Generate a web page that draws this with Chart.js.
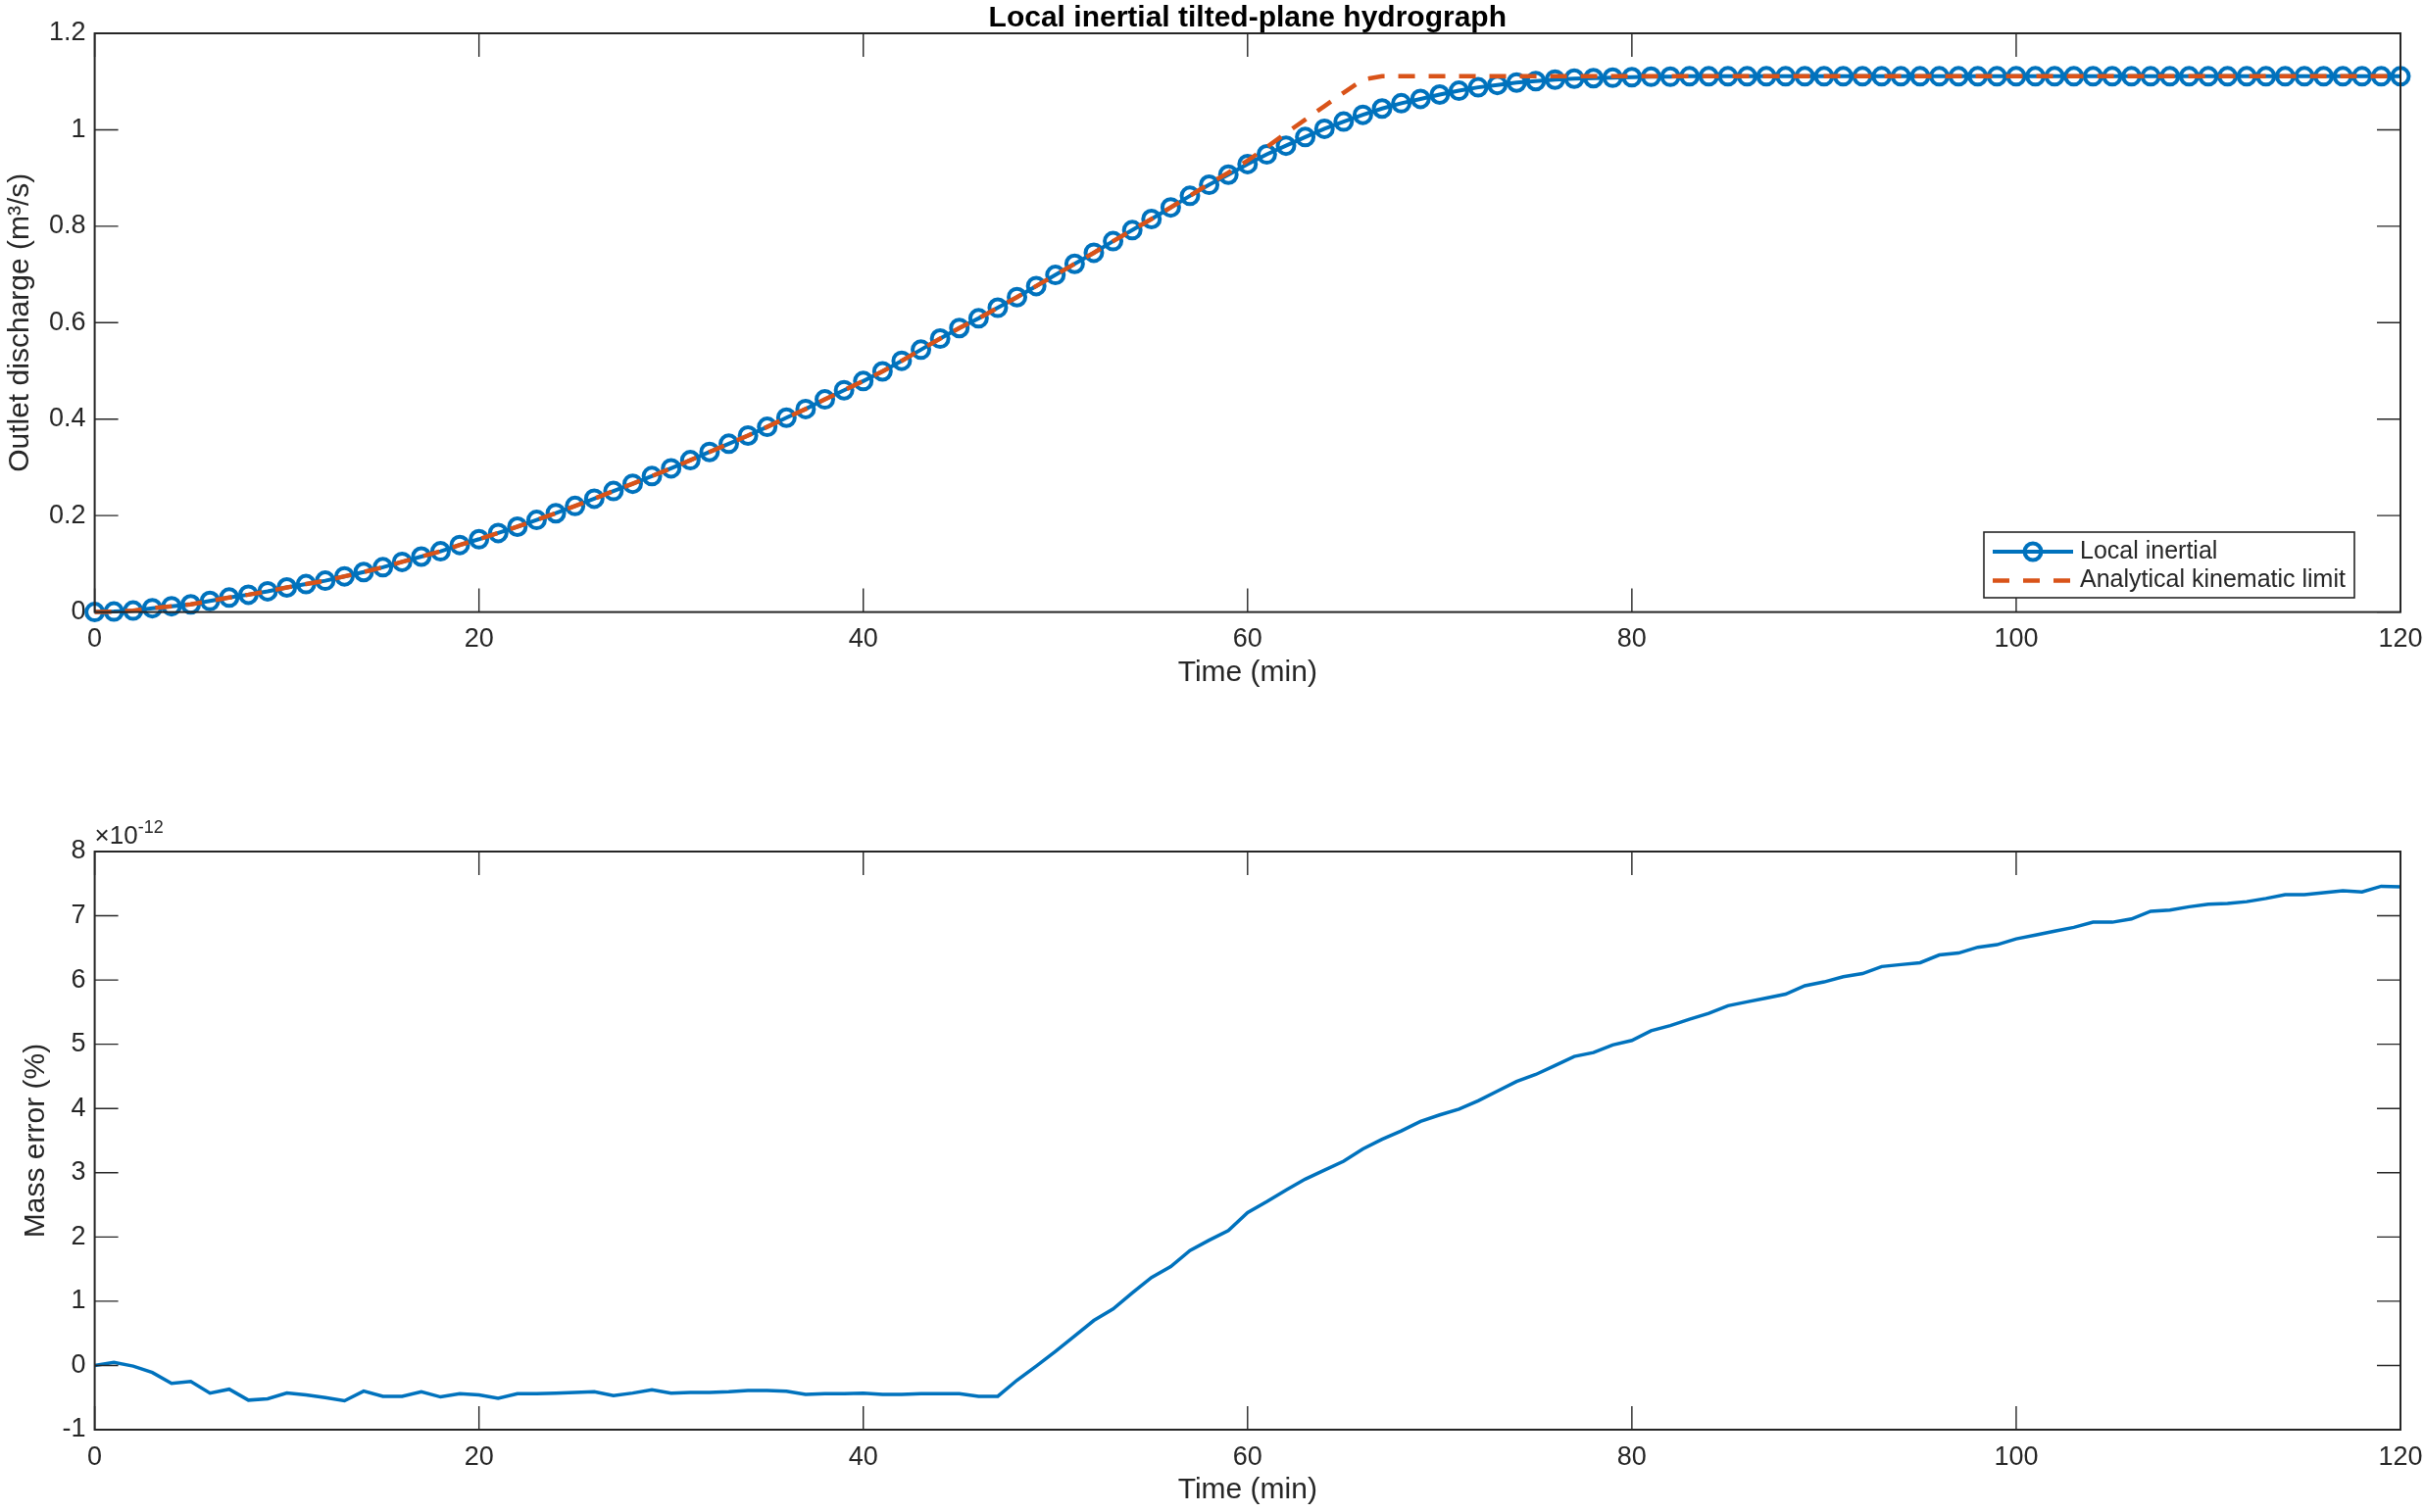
<!DOCTYPE html>
<html>
<head>
<meta charset="utf-8">
<title>Local inertial tilted-plane hydrograph</title>
<script src="https://cdn.jsdelivr.net/npm/chart.js@4.4.1/dist/chart.umd.min.js"></script>
<style>
  html, body { margin: 0; padding: 0; background: #fff; }
  body { width: 2473px; height: 1543px; position: relative; overflow: hidden; }
  canvas { position: absolute; left: 0; }
  #hydroChart { top: 0; width: 2473px; height: 760px; }
  #massChart { top: 760px; width: 2473px; height: 783px; }
</style>
</head>
<body>
<canvas id="hydroChart" width="2473" height="760"></canvas>
<canvas id="massChart" width="2473" height="783"></canvas>
<script>
/* ============================================================
   Tilted-plane hydrograph + mass error (two stacked panels)
   ============================================================ */

// ── Data ──────────────────────────────────────────────────────
const timeMin = [
  0, 1, 2, 3, 4, 5, 6, 7, 8, 9, 10, 11, 12, 13, 14, 15, 16, 17, 18, 19,
  20, 21, 22, 23, 24, 25, 26, 27, 28, 29, 30, 31, 32, 33, 34, 35, 36, 37, 38, 39,
  40, 41, 42, 43, 44, 45, 46, 47, 48, 49, 50, 51, 52, 53, 54, 55, 56, 57, 58, 59,
  60, 61, 62, 63, 64, 65, 66, 67, 68, 69, 70, 71, 72, 73, 74, 75, 76, 77, 78, 79,
  80, 81, 82, 83, 84, 85, 86, 87, 88, 89, 90, 91, 92, 93, 94, 95, 96, 97, 98, 99,
  100, 101, 102, 103, 104, 105, 106, 107, 108, 109, 110, 111, 112, 113, 114, 115, 116, 117, 118, 119,
  120
];

// outlet discharge, m3/s
const localInertial = [
  0.000, 0.001, 0.003, 0.008, 0.012, 0.016, 0.023, 0.030, 0.036, 0.043,
  0.051, 0.058, 0.065, 0.074, 0.083, 0.093, 0.104, 0.115, 0.126, 0.139,
  0.151, 0.164, 0.177, 0.191, 0.205, 0.220, 0.235, 0.251, 0.266, 0.282,
  0.298, 0.315, 0.332, 0.349, 0.366, 0.384, 0.403, 0.421, 0.441, 0.460,
  0.479, 0.499, 0.521, 0.544, 0.567, 0.589, 0.609, 0.631, 0.653, 0.676,
  0.699, 0.722, 0.745, 0.769, 0.792, 0.815, 0.839, 0.863, 0.886, 0.907,
  0.929, 0.949, 0.967, 0.985, 1.002, 1.017, 1.031, 1.044, 1.055, 1.064,
  1.073, 1.081, 1.088, 1.093, 1.098, 1.101, 1.104, 1.106, 1.107, 1.108,
  1.109, 1.110, 1.110, 1.111, 1.111, 1.111, 1.111, 1.111, 1.111, 1.111,
  1.111, 1.111, 1.111, 1.111, 1.111, 1.111, 1.111, 1.111, 1.111, 1.111,
  1.111, 1.111, 1.111, 1.111, 1.111, 1.111, 1.111, 1.111, 1.111, 1.111,
  1.111, 1.111, 1.111, 1.111, 1.111, 1.111, 1.111, 1.111, 1.111, 1.111,
  1.111
];

const kinematicLimit = [
  0.000, 0.001, 0.003, 0.008, 0.012, 0.016, 0.023, 0.030, 0.036, 0.043,
  0.051, 0.058, 0.065, 0.074, 0.083, 0.093, 0.104, 0.115, 0.126, 0.139,
  0.151, 0.164, 0.177, 0.191, 0.205, 0.220, 0.235, 0.251, 0.266, 0.282,
  0.298, 0.315, 0.332, 0.349, 0.366, 0.384, 0.403, 0.421, 0.441, 0.460,
  0.479, 0.499, 0.521, 0.544, 0.567, 0.589, 0.609, 0.631, 0.653, 0.676,
  0.699, 0.722, 0.745, 0.769, 0.792, 0.815, 0.839, 0.863, 0.888, 0.911,
  0.936, 0.964, 0.993, 1.021, 1.049, 1.077, 1.104, 1.111, 1.111, 1.111,
  1.111, 1.111, 1.111, 1.111, 1.111, 1.111, 1.111, 1.111, 1.111, 1.111,
  1.111, 1.111, 1.111, 1.111, 1.111, 1.111, 1.111, 1.111, 1.111, 1.111,
  1.111, 1.111, 1.111, 1.111, 1.111, 1.111, 1.111, 1.111, 1.111, 1.111,
  1.111, 1.111, 1.111, 1.111, 1.111, 1.111, 1.111, 1.111, 1.111, 1.111,
  1.111, 1.111, 1.111, 1.111, 1.111, 1.111, 1.111, 1.111, 1.111, 1.111,
  1.111
];

// mass error in %, given in units of 1e-12
const massErrorE12 = [
  0.00, 0.05, -0.01, -0.11, -0.28, -0.25, -0.43, -0.37, -0.54, -0.52,
  -0.43, -0.46, -0.50, -0.55, -0.40, -0.48, -0.48, -0.41, -0.49, -0.44,
  -0.46, -0.51, -0.44, -0.44, -0.43, -0.42, -0.41, -0.47, -0.43, -0.38,
  -0.43, -0.42, -0.42, -0.41, -0.39, -0.39, -0.40, -0.45, -0.44, -0.44,
  -0.43, -0.45, -0.45, -0.44, -0.44, -0.44, -0.48, -0.48, -0.23, -0.01,
  0.22, 0.46, 0.70, 0.88, 1.13, 1.37, 1.54, 1.79, 1.95, 2.10,
  2.38, 2.55, 2.73, 2.90, 3.04, 3.18, 3.37, 3.52, 3.65, 3.80,
  3.90, 3.99, 4.12, 4.27, 4.42, 4.53, 4.67, 4.81, 4.87, 4.99,
  5.06, 5.21, 5.29, 5.39, 5.48, 5.60, 5.66, 5.72, 5.78, 5.91,
  5.97, 6.05, 6.10, 6.21, 6.24, 6.27, 6.39, 6.42, 6.51, 6.55,
  6.64, 6.70, 6.76, 6.82, 6.90, 6.90, 6.95, 7.07, 7.09, 7.14,
  7.18, 7.19, 7.22, 7.27, 7.33, 7.33, 7.36, 7.39, 7.37, 7.46,
  7.45
];

const timeTicks = { min: 0, max: 120, step: 20 };
const dischargeTicks = { min: 0, max: 1.2, step: 0.2 };
const errorTicks = { min: -1, max: 8, step: 1 };

// ── Style ─────────────────────────────────────────────────────
const FONT = '"Liberation Sans", Arial, Helvetica, sans-serif';
const AXIS = '#262626';
const BLUE = '#0072BD';
const ORANGE = '#D95319';

const fmt = v => String(Math.round(v * 100) / 100);
const xy = ys => timeMin.map((t, i) => ({ x: t, y: ys[i] }));

// ── Plugins ───────────────────────────────────────────────────
// matlab style box with inward ticks on all four sides
const axesBox = {
  id: 'axesBox',
  afterDatasetsDraw(chart) {
    const { ctx, chartArea: a, scales: { x, y } } = chart;
    const len = 24;
    ctx.save();
    ctx.strokeStyle = AXIS;
    ctx.lineWidth = 1.4;
    ctx.beginPath();
    x.ticks.forEach(t => {
      const px = x.getPixelForValue(t.value);
      ctx.moveTo(px, a.bottom); ctx.lineTo(px, a.bottom - len);
      ctx.moveTo(px, a.top); ctx.lineTo(px, a.top + len);
    });
    y.ticks.forEach(t => {
      const py = y.getPixelForValue(t.value);
      ctx.moveTo(a.left, py); ctx.lineTo(a.left + len, py);
      ctx.moveTo(a.right, py); ctx.lineTo(a.right - len, py);
    });
    ctx.stroke();
    ctx.lineWidth = 2;
    ctx.strokeRect(a.left, a.top, a.right - a.left, a.bottom - a.top);
    ctx.restore();
  }
};

// free text around the axes (title, exponent)
const axesText = {
  id: 'axesText',
  afterDraw(chart, args, opts) {
    const { ctx, chartArea: a } = chart;
    ctx.save();
    ctx.textBaseline = 'alphabetic';
    let cursor = a.left;
    (opts.items || []).forEach(it => {
      ctx.font = it.font;
      ctx.fillStyle = it.color || AXIS;
      ctx.textAlign = it.align || 'left';
      let x;
      if (it.x === 'center') x = (a.left + a.right) / 2;
      else if (it.x === 'after') x = cursor;
      else x = a.left + it.x;
      ctx.fillText(it.text, x, a.top + it.dy);
      cursor = x + ctx.measureText(it.text).width;
    });
    ctx.restore();
  }
};

// legend box inside the axes, drawn from the dataset styles
const boxLegend = {
  id: 'boxLegend',
  afterDraw(chart, args, opts) {
    if (!opts.display) return;
    const { ctx } = chart;
    const { left, top, width, height, rows, lineX0, lineX1, textX } = opts;
    ctx.save();
    ctx.fillStyle = '#fff';
    ctx.fillRect(left, top, width, height);
    ctx.strokeStyle = AXIS;
    ctx.lineWidth = 1.6;
    ctx.strokeRect(left, top, width, height);

    chart.data.datasets.forEach((ds, i) => {
      const y = rows[i];
      ctx.strokeStyle = ds.borderColor;
      ctx.lineWidth = ds.borderWidth;
      ctx.setLineDash(ds.borderDash || []);
      ctx.beginPath();
      ctx.moveTo(lineX0, y);
      ctx.lineTo(lineX1, y);
      ctx.stroke();
      ctx.setLineDash([]);
      if (ds.pointRadius > 0) {
        ctx.lineWidth = ds.pointBorderWidth;
        ctx.strokeStyle = ds.pointBorderColor;
        ctx.beginPath();
        ctx.arc((lineX0 + lineX1) / 2, y, ds.pointRadius, 0, Math.PI * 2);
        ctx.stroke();
      }
      ctx.fillStyle = AXIS;
      ctx.font = `25px ${FONT}`;
      ctx.textAlign = 'left';
      ctx.textBaseline = 'middle';
      ctx.fillText(ds.label, textX, y);
    });
    ctx.restore();
  }
};

// ── Shared axis builders ──────────────────────────────────────
function timeAxis() {
  return {
    type: 'linear',
    min: timeTicks.min,
    max: timeTicks.max,
    afterFit: s => {
      s.height = 80;
      // end labels may overhang, the box must still reach the padding edge
      s.paddingLeft = 0;
      s.paddingRight = 0;
    },
    afterBuildTicks: s => {
      s.ticks = [];
      for (let v = timeTicks.min; v <= timeTicks.max; v += timeTicks.step) s.ticks.push({ value: v });
    },
    ticks: { padding: 12, color: AXIS, font: { family: FONT, size: 27 }, maxRotation: 0, autoSkip: false, callback: fmt },
    grid: { display: false, drawTicks: false },
    border: { display: false },
    title: { display: true, text: 'Time (min)', color: AXIS, font: { family: FONT, size: 30 }, padding: { top: 0, bottom: 0 } }
  };
}

function valueAxis(range, label, titlePad) {
  return {
    type: 'linear',
    min: range.min,
    max: range.max,
    afterFit: s => { s.width = 96.6; },
    afterBuildTicks: s => {
      s.ticks = [];
      const n = Math.round((range.max - range.min) / range.step);
      for (let k = 0; k <= n; k++) s.ticks.push({ value: range.min + k * range.step });
    },
    ticks: { padding: 9, color: AXIS, font: { family: FONT, size: 27 }, autoSkip: false, callback: fmt },
    grid: { display: false, drawTicks: false },
    border: { display: false },
    title: { display: true, text: label, color: AXIS, font: { family: FONT, size: 30 }, padding: { top: titlePad, bottom: 0 } }
  };
}

// ── Top panel: hydrograph ─────────────────────────────────────
new Chart(document.getElementById('hydroChart'), {
  type: 'line',
  data: {
    datasets: [
      {
        label: 'Local inertial',
        data: xy(localInertial),
        borderColor: BLUE,
        borderWidth: 4,
        pointStyle: 'circle',
        pointRadius: 8.5,
        pointHoverRadius: 8.5,
        pointBorderWidth: 4,
        pointBorderColor: BLUE,
        pointBackgroundColor: 'rgba(0,0,0,0)',
        tension: 0,
        clip: false,
        order: 2
      },
      {
        label: 'Analytical kinematic limit',
        data: xy(kinematicLimit),
        borderColor: ORANGE,
        borderWidth: 4.5,
        borderDash: [17, 14],
        pointRadius: 0,
        tension: 0,
        clip: false,
        order: 1
      }
    ]
  },
  options: {
    responsive: false,
    animation: false,
    devicePixelRatio: 1,
    layout: { padding: { left: 0, right: 24, top: 34, bottom: 55.4 } },
    scales: {
      x: timeAxis(),
      y: valueAxis(dischargeTicks, 'Outlet discharge (m³/s)', 3)
    },
    plugins: {
      legend: { display: false },
      tooltip: { enabled: false },
      axesText: {
        items: [
          { text: 'Local inertial tilted-plane hydrograph', x: 'center', dy: -7.5, align: 'center', color: '#000', font: `bold 30px ${FONT}` }
        ]
      },
      boxLegend: {
        display: true,
        left: 2024, top: 543, width: 378, height: 67,
        rows: [563, 592.6],
        lineX0: 2033, lineX1: 2115, textX: 2122
      }
    }
  },
  plugins: [axesBox, axesText, boxLegend]
});

// ── Bottom panel: mass error ──────────────────────────────────
new Chart(document.getElementById('massChart'), {
  type: 'line',
  data: {
    datasets: [
      {
        label: 'Mass error',
        data: xy(massErrorE12),
        borderColor: BLUE,
        borderWidth: 3.5,
        pointRadius: 0,
        tension: 0
      }
    ]
  },
  options: {
    responsive: false,
    animation: false,
    devicePixelRatio: 1,
    layout: { padding: { left: 0, right: 24, top: 109, bottom: 4 } },
    scales: {
      x: timeAxis(),
      y: valueAxis(errorTicks, 'Mass error (%)', 19)
    },
    plugins: {
      legend: { display: false },
      tooltip: { enabled: false },
      axesText: {
        items: [
          { text: '×10', x: 0, dy: -8, font: `26px ${FONT}` },
          { text: '-12', x: 'after', dy: -19, font: `18px ${FONT}` }
        ]
      },
      boxLegend: { display: false }
    }
  },
  plugins: [axesBox, axesText, boxLegend]
});
</script>
</body>
</html>
